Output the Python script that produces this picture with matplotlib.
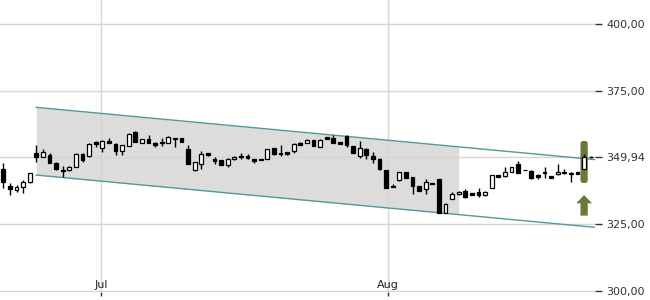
import matplotlib
matplotlib.use("Agg")
import matplotlib.pyplot as plt
from matplotlib.patches import FancyBboxPatch, Polygon
import numpy as np

# ---- data (daily candles, index = trading session) ----
opens = [345.5, 339.2, 337.7, 338.7, 340.6, 351.7, 350.2, 350.8, 347.9, 345.2,
         345.1, 346.4, 351.2, 350.5, 355.6, 353.6, 356.2, 355.0, 352.4, 354.3,
         359.6, 355.4, 356.7, 355.4, 355.8, 355.2, 357.2, 357.1, 353.0, 345.2,
         347.3, 351.5, 349.3, 349.0, 347.1, 349.2, 350.5, 350.5, 349.2, 349.2,
         349.2, 353.3, 351.7, 352.1, 352.4, 355.4, 355.2, 356.5, 353.9, 357.5,
         357.1, 355.6, 358.0, 354.2, 350.5, 353.1, 350.6, 349.2, 345.2, 339.3,
         341.5, 344.3, 342.5, 339.2, 338.1, 340.4, 341.7, 329.0, 334.2, 336.1,
         337.3, 336.5, 337.1, 335.8, 338.5, 343.3, 343.1, 344.6, 347.5, 345.25,
         344.9, 343.3, 344.6, 343.0, 343.6, 344.6, 344.2, 344.3, 345.6, 350.0]
highs = [347.8, 340.2, 339.5, 341.5, 344.0, 354.6, 353.0, 351.7, 348.2, 346.7,
         346.7, 351.5, 351.5, 355.2, 356.2, 356.5, 357.1, 355.4, 354.6, 359.0,
         359.8, 356.8, 358.3, 355.8, 357.1, 358.0, 357.3, 357.2, 354.6, 348.3,
         352.4, 351.5, 350.2, 349.0, 349.6, 350.5, 351.5, 351.2, 349.3, 349.5,
         353.0, 353.4, 354.6, 352.1, 355.4, 355.6, 356.8, 356.5, 356.7, 357.7,
         358.3, 355.7, 358.3, 354.3, 356.2, 353.3, 352.1, 349.6, 345.3, 339.8,
         344.6, 344.6, 342.7, 339.3, 341.7, 340.5, 341.8, 332.9, 336.8, 337.4,
         338.0, 336.5, 338.3, 337.4, 343.4, 343.4, 346.2, 346.3, 348.7, 345.3,
         345.2, 343.7, 346.4, 343.0, 347.5, 345.6, 344.6, 344.4, 351.1, 350.3]
lows = [338.6, 335.8, 337.1, 336.5, 340.5, 348.3, 350.0, 347.9, 345.2, 342.5,
        344.8, 346.4, 348.3, 350.0, 353.9, 352.1, 355.4, 350.8, 350.8, 354.2,
        355.6, 355.2, 355.2, 353.9, 354.3, 355.2, 353.9, 355.7, 347.3, 344.9,
        345.6, 350.5, 347.5, 347.0, 346.4, 349.0, 349.2, 349.4, 347.7, 348.9,
        349.2, 351.0, 350.5, 350.9, 351.5, 354.6, 355.2, 354.1, 353.7, 356.8,
        355.4, 355.0, 353.9, 351.4, 349.6, 349.2, 347.7, 345.2, 338.5, 338.8,
        341.2, 342.1, 336.1, 337.4, 336.1, 339.8, 329.1, 328.9, 334.2, 335.8,
        334.8, 335.8, 335.2, 335.5, 338.4, 342.5, 342.5, 344.5, 344.0, 345.1,
        342.0, 341.7, 342.3, 342.3, 343.5, 343.6, 340.8, 343.6, 345.5, 349.6]
closes = [340.7, 338.2, 338.9, 340.7, 344.0, 350.2, 352.1, 347.9, 345.5, 344.7,
          346.3, 351.2, 349.0, 354.8, 354.8, 356.1, 355.4, 352.3, 354.6, 358.8,
          355.8, 356.7, 355.2, 354.5, 355.2, 357.7, 356.8, 355.8, 347.3, 348.1,
          351.2, 350.8, 348.7, 347.1, 349.2, 350.0, 350.0, 349.7, 348.5, 348.95,
          353.0, 351.1, 351.2, 351.2, 355.0, 354.7, 356.5, 354.2, 356.5, 356.8,
          355.4, 355.1, 354.6, 351.5, 353.3, 350.8, 349.2, 345.5, 338.6, 338.8,
          344.3, 342.3, 339.2, 337.4, 340.6, 339.8, 329.2, 332.5, 336.2, 337.1,
          335.2, 335.8, 335.8, 337.1, 343.3, 342.6, 344.6, 346.2, 344.2, 345.15,
          342.1, 342.6, 344.1, 342.3, 344.6, 344.0, 343.6, 343.7, 349.94, 349.94]

# trend channel (session index, upper value, lower value)
channel_x = [5.0, 89.65]
channel_upper = [368.7, 349.1]
channel_lower = [343.3, 323.7]
channel_fill_end = 69.0

# axis labels
ytick_values = [300.0, 325.0, 349.94, 375.0, 400.0]
month_labels = ["Jul", "Aug"]
month_positions = [14.8, 58.3]

# highlight on the last full candle
highlight_idx = 88
highlight_range = (340.3, 356.1)
arrow_range = (328.1, 335.8)

# ---- figure ----
W, H = 650, 300
fig = plt.figure(figsize=(W / 100, H / 100), dpi=100)
ax = fig.add_axes([0, 8 / H, 595 / W, 292 / H])
ax.set_xlim(-0.5, 89.65)
ax.set_ylim(299.45, 408.95)
for s in ax.spines.values():
    s.set_visible(False)

grid_c = "#d6d6d6"
for yv in ytick_values:
    ax.axhline(yv, color=grid_c, lw=1, zorder=1)
for xv in month_positions:
    ax.axvline(xv, color=grid_c, lw=1, zorder=1)

# channel
cx = np.array(channel_x)
cu = np.array(channel_upper)
cl = np.array(channel_lower)
slope_u = (cu[1] - cu[0]) / (cx[1] - cx[0])
slope_l = (cl[1] - cl[0]) / (cx[1] - cx[0])
fx = np.array([cx[0], channel_fill_end])
ax.fill_between(fx, cu[0] + slope_u * (fx - cx[0]), cl[0] + slope_l * (fx - cx[0]),
                color="#dcdcdc", lw=0, zorder=0.5)
ax.plot(cx, cu, color="#4f9a9c", lw=1, zorder=2)
ax.plot(cx, cl, color="#4f9a9c", lw=1, zorder=2)

# highlight box and arrow
olive = "#677a36"
bw = 1.1
ax.add_patch(FancyBboxPatch((highlight_idx - bw / 2, highlight_range[0]), bw,
                            highlight_range[1] - highlight_range[0],
                            boxstyle="round,pad=0,rounding_size=0.5",
                            mutation_aspect=2.0,
                            fc=olive, ec="none", zorder=2.5))
a0, a1 = arrow_range
head_h = (a1 - a0) * 0.4
hw, sw = 1.2, 0.55
ax.add_patch(Polygon([(highlight_idx, a1), (highlight_idx + hw, a1 - head_h),
                      (highlight_idx + sw, a1 - head_h), (highlight_idx + sw, a0),
                      (highlight_idx - sw, a0), (highlight_idx - sw, a1 - head_h),
                      (highlight_idx - hw, a1 - head_h)],
                     closed=True, fc=olive, ec="none", zorder=2.5))

# candles
idx = np.arange(len(opens))
o = np.array(opens); c = np.array(closes)
hi = np.array(highs); lo = np.array(lows)
ax.vlines(idx, lo, hi, color="black", lw=1, zorder=3)
up = c >= o
body_w = 0.55
ax.bar(idx[up], (c - o)[up], bottom=o[up], width=body_w, color="white",
       edgecolor="black", lw=0.9, zorder=4)
ax.bar(idx[~up], (o - c)[~up], bottom=c[~up], width=body_w, color="black",
       edgecolor="black", lw=0.9, zorder=4)

# y axis on right
ax.yaxis.tick_right()
ax.set_yticks(ytick_values)
ax.set_yticklabels([f"{v:.2f}".replace(".", ",") for v in ytick_values])
ax.tick_params(axis="y", direction="out", length=5, width=1, color="#333333",
               pad=3, labelsize=8, labelcolor="#333333")

# x axis
ax.set_xticks(month_positions)
ax.set_xticklabels([])
ax.tick_params(axis="x", direction="out", length=3, width=1, color="#333333")
for pos, lab in zip(month_positions, month_labels):
    ax.annotate(lab, xy=(pos, 0), xycoords=("data", "axes fraction"),
                xytext=(0, 1.5), textcoords="offset points",
                ha="center", va="bottom", fontsize=8, color="#222222")

fig.savefig("out.png", dpi=100)
